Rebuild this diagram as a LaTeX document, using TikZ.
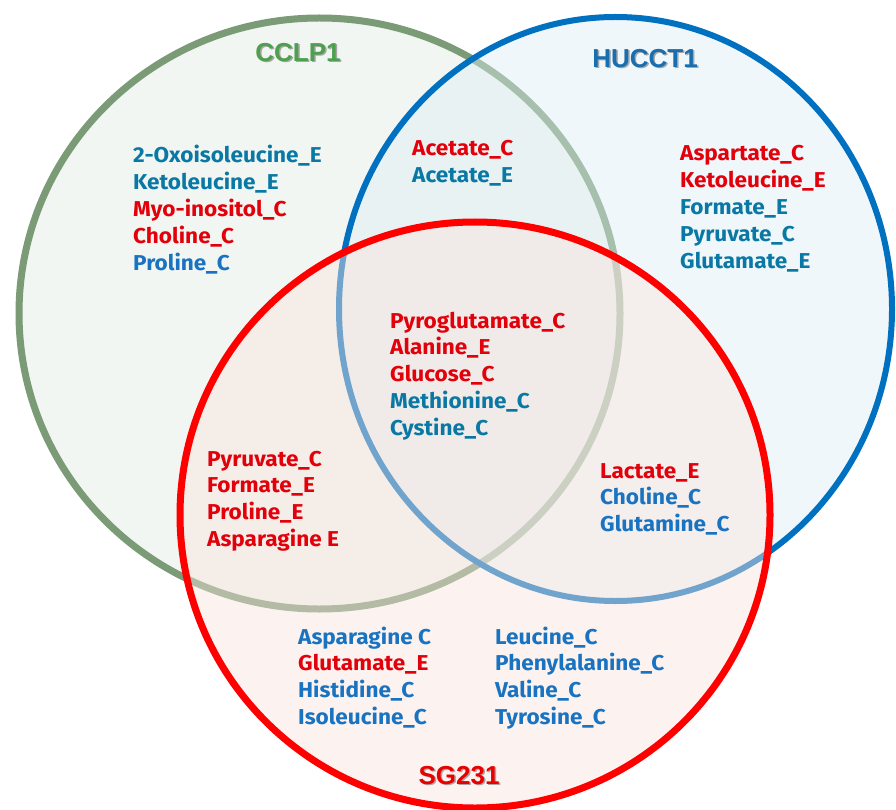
\documentclass[tikz,border=0pt]{standalone}
\usepackage{fontspec}
\setmainfont{Fira Sans}[FakeStretch=1.05]
\newfontfamily\titlefont{Liberation Sans}
\definecolor{gstroke}{RGB}{122,155,118}
\definecolor{gfill}{RGB}{224,237,228}
\definecolor{bstroke}{RGB}{0,112,192}
\definecolor{bfill}{RGB}{222,239,244}
\definecolor{rstroke}{RGB}{255,0,0}
\definecolor{rfill}{RGB}{250,228,222}
\definecolor{tred}{RGB}{226,0,10}
\definecolor{tteal}{RGB}{10,120,165}
\definecolor{tblue}{RGB}{25,115,192}
\definecolor{ttlg}{RGB}{78,160,78}
\definecolor{ttlb}{RGB}{25,110,175}
\definecolor{ttlr}{RGB}{235,0,0}
\newcommand\shadowed[1]{\makebox[0pt][l]{\hspace{1.5pt}\raisebox{-1.5pt}{\textcolor{black!35}{#1}}}#1}
\begin{document}
\begin{tikzpicture}[x=1pt,y=-1pt,
  lbl/.style={anchor=base west, inner sep=0pt, font=\fontsize{21.5}{25}\selectfont\bfseries},
  ttl/.style={font=\titlefont\fontsize{26}{30}\selectfont\bfseries, inner sep=0pt}]
\useasboundingbox (0,0) rectangle (896,810);
\fill[white] (0,0) rectangle (896,810);
\draw[gstroke, line width=7pt, fill=gfill, fill opacity=0.45] (319.5,313.5) ellipse [x radius=300.5, y radius=295.5];
\draw[bstroke, line width=6pt, fill=bfill, fill opacity=0.45] (615.5,309) ellipse [x radius=276.5, y radius=292];
\draw[rstroke, line width=7pt, fill=rfill, fill opacity=0.45] (475,515) ellipse [x radius=295, y radius=293];
% titles
\node[ttl, text=ttlg] (t1) at (298,53) {\shadowed{CCLP1}};
\node[ttl, text=ttlb] (t2) at (645,59) {\shadowed{HUCCT1}};
\node[ttl, text=ttlr] (t3) at (459,776) {\shadowed{SG231}};
% CCLP1 only
\foreach \t/\c [count=\i] in {2-Oxoisoleucine\_E/tteal, Ketoleucine\_E/tteal, Myo-inositol\_C/tred, Choline\_C/tred, Proline\_C/tblue}
  \node[lbl, text=\c] (a\i) at (133, 163+26.9*\i-26.9) {\t};
% CCLP1 & HUCCT1
\foreach \t/\c [count=\i] in {Acetate\_C/tred, Acetate\_E/tteal}
  \node[lbl, text=\c] (b\i) at (412, 156+26.9*\i-26.9) {\t};
% HUCCT1 only
\foreach \t/\c [count=\i] in {Aspartate\_C/tred, Ketoleucine\_E/tred, Formate\_E/tteal, Pyruvate\_C/tteal, Glutamate\_E/tteal}
  \node[lbl, text=\c] (c\i) at (680, 161+26.9*\i-26.9) {\t};
% all three
\foreach \t/\c [count=\i] in {Pyroglutamate\_C/tred, Alanine\_E/tred, Glucose\_C/tred, Methionine\_C/tteal, Cystine\_C/tteal}
  \node[lbl, text=\c] (d\i) at (390, 328+26.75*\i-26.75) {\t};
% CCLP1 & SG231
\foreach \t/\c [count=\i] in {Pyruvate\_C/tred, Formate\_E/tred, Proline\_E/tred, Asparagine E/tred}
  \node[lbl, text=\c] (e\i) at (207, 466+26.75*\i-26.75) {\t};
% HUCCT1 & SG231
\foreach \t/\c [count=\i] in {Lactate\_E/tred, Choline\_C/tblue, Glutamine\_C/tblue}
  \node[lbl, text=\c] (f\i) at (600, 478+26.9*\i-26.9) {\t};
% SG231 only
\foreach \t/\c [count=\i] in {Asparagine C/tblue, Glutamate\_E/tred, Histidine\_C/tblue, Isoleucine\_C/tblue}
  \node[lbl, text=\c] (g\i) at (298, 644+26.75*\i-26.75) {\t};
\foreach \t/\c [count=\i] in {Leucine\_C/tblue, Phenylalanine\_C/tblue, Valine\_C/tblue, Tyrosine\_C/tblue}
  \node[lbl, text=\c] (h\i) at (495, 644+26.75*\i-26.75) {\t};
\end{tikzpicture}
\end{document}
